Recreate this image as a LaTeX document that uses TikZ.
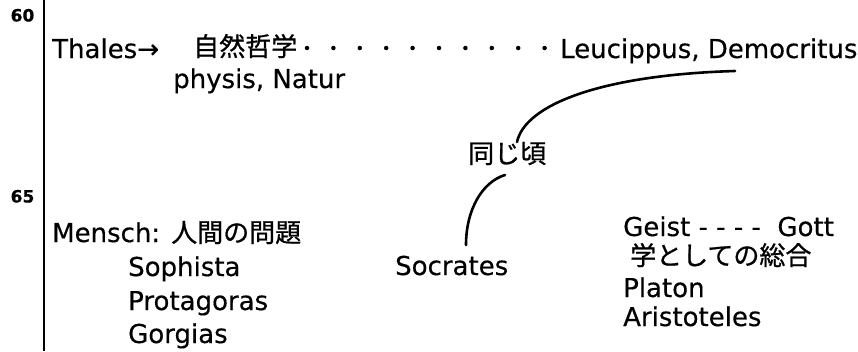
\documentclass[tikz,border=0pt]{standalone}
\usepackage{fontspec}
\setmainfont[FakeBold=0.4]{DejaVu Sans}
\newfontfamily\jp[FakeBold=0.8]{Noto Sans CJK JP}
\begin{document}
\begin{tikzpicture}[x=1pt,y=-1pt,
  lbl/.style={inner sep=0pt,anchor=base west,font=\fontsize{26}{30}\selectfont},
  yr/.style={inner sep=0pt,anchor=base,font=\bfseries\fontsize{17}{20}\selectfont},
  link/.style={line width=2.6pt,line cap=round},
  leader/.style={line width=4.5pt,line cap=round,dash pattern=on 0pt off 26.4pt}]
\useasboundingbox (0,0) rectangle (858,351);
% time axis
\coordinate (axtop) at (44,0);
\coordinate (axbot) at (44,351);
\draw[line width=2pt] (axtop) -- (axbot);
\node[yr] (n60) at (22.5,21.5) {60};
\node[yr] (n65) at (22.5,202.5) {65};
% top row
\node[lbl] (thales) at (52,58) {Thales→};
\node[lbl] (shizen) at (193,56) {\jp 自然哲学};
\node[lbl] (leuc) at (560,58) {Leucippus, Democritus};
\node[lbl] (physis) at (173,88) {physis, Natur};
\coordinate (d1) at (307,48);
\coordinate (d2) at (545.2,48);
\draw[leader] (d1) -- (d2);
% middle
\node[lbl] (onaji) at (468,163) {\jp 同じ頃};
\coordinate (c1s) at (735,71);
\coordinate (c1e) at (517,142);
\draw[link] (c1s) .. controls (600,75) and (525,105) .. (c1e);
\coordinate (c2s) at (505,175);
\coordinate (c2e) at (466,245);
\draw[link] (c2s) .. controls (482,182) and (466,210) .. (c2e);
\node[lbl] (socrates) at (395,275) {Socrates};
% left column
\node[lbl] (mensch) at (52,242) {Mensch: {\jp 人間の問題}};
\node[lbl] (sophista) at (128,276) {Sophista};
\node[lbl] (protagoras) at (128,310) {Protagoras};
\node[lbl] (gorgias) at (128,343) {Gorgias};
% right column
\node[lbl] (geist) at (623,236) {Geist - - - -\ \ Gott};
\node[lbl] (gaku) at (630,265) {\jp 学としての総合};
\node[lbl] (platon) at (623,297) {Platon};
\node[lbl] (aristoteles) at (623,326) {Aristoteles};
\end{tikzpicture}
\end{document}
